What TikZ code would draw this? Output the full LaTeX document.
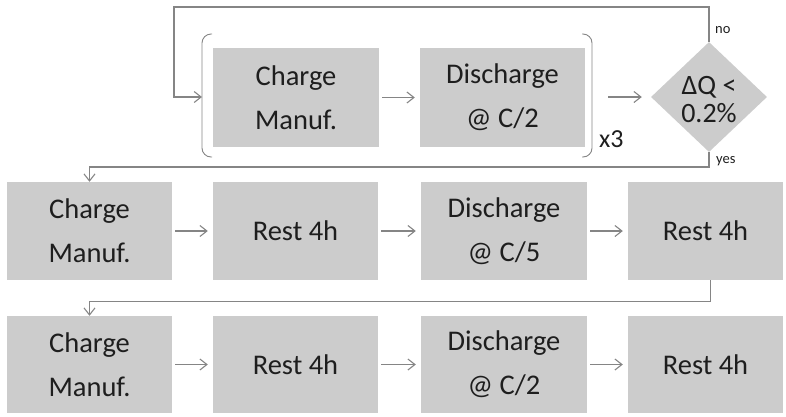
\documentclass[tikz,border=0pt]{standalone}
\usepackage{fontspec}
\setmainfont{Carlito}
\usetikzlibrary{arrows.meta,shapes.geometric}
\definecolor{boxgray}{HTML}{CCCCCC}
\definecolor{linegray}{HTML}{858585}
\definecolor{ink}{HTML}{1E1E1E}
\begin{document}
\begin{tikzpicture}[x=1pt,y=-1pt,
  box/.style={fill=boxgray, inner sep=0pt, align=center, text=ink,
              font=\fontsize{28.5}{44}\selectfont},
  line/.style={draw=linegray, line width=1.1pt},
  conn/.style={line, -{Straight Barb[length=7pt,width=11pt]}},
  flow/.style={conn, shorten <=3pt, shorten >=5pt},
  lbl/.style={text=ink, font=\fontsize{14.5}{16}\selectfont, inner sep=0pt, anchor=base west}]
\useasboundingbox (0,0) rectangle (786,416);

% repeated charge/discharge cycle
\node[box, minimum width=166pt, minimum height=99pt] (c1) at (296,97.5) {Charge\\Manuf.};
\node[box, minimum width=165pt, minimum height=99pt] (d1) at (502.5,97.5) {Discharge\\@ C/2};

% bracket around the cycle
\draw[line, line width=0.9pt, rounded corners=9pt] (212,34) -- (202,34) -- (202,157) -- (212,157);
\draw[line, line width=0.9pt, rounded corners=9pt] (582,34) -- (592,34) -- (592,157) -- (582,157);
\coordinate (bkL) at (202,97);
\coordinate (bkR) at (608,97);
\node[text=ink, font=\fontsize{26}{26}\selectfont, anchor=base west, inner sep=0pt] (x3) at (599,147) {x3};

% convergence check
\node[diamond, fill=boxgray, inner sep=0pt, minimum width=116pt, minimum height=110pt] (dq) at (709,97) {};
\node[text=ink, align=center, font=\fontsize{28}{28}\selectfont, inner sep=0pt] (dqt) at (709,100) {ΔQ <\\0.2\%};
\node[lbl] (no) at (715,33) {no};
\node[lbl] (yes) at (716,163) {yes};

% second row
\node[box, minimum width=165pt, minimum height=98pt] (r21) at (89.5,231) {Charge\\Manuf.};
\node[box, minimum width=165pt, minimum height=98pt] (r22) at (295.5,231) {Rest 4h};
\node[box, minimum width=166pt, minimum height=98pt] (r23) at (504,231) {Discharge\\@ C/5};
\node[box, minimum width=155pt, minimum height=98pt] (r24) at (705.5,231) {Rest 4h};

% third row
\node[box, minimum width=165pt, minimum height=97pt] (r31) at (89.5,364.5) {Charge\\Manuf.};
\node[box, minimum width=165pt, minimum height=97pt] (r32) at (295.5,364.5) {Rest 4h};
\node[box, minimum width=166pt, minimum height=97pt] (r33) at (504,364.5) {Discharge\\@ C/2};
\node[box, minimum width=155pt, minimum height=97pt] (r34) at (705.5,364.5) {Rest 4h};

% connectors
\draw[conn] (dq.north) -- (709,7) -| (174,97) -- (bkL);
\draw[flow] (c1) -- (d1);
\draw[conn, shorten >=9pt] (bkR) -- (dq.west);
\draw[conn] (dq.south) -- (709,167) -| (r21.north);
\draw[flow] (r21) -- (r22);
\draw[flow] (r22) -- (r23);
\draw[flow] (r23) -- (r24);
\draw[conn] ([xshift=5pt]r24.south) -- ++(0,21) -| (r31.north);
\draw[flow] (r31) -- (r32);
\draw[flow] (r32) -- (r33);
\draw[flow] (r33) -- (r34);
\end{tikzpicture}
\end{document}
